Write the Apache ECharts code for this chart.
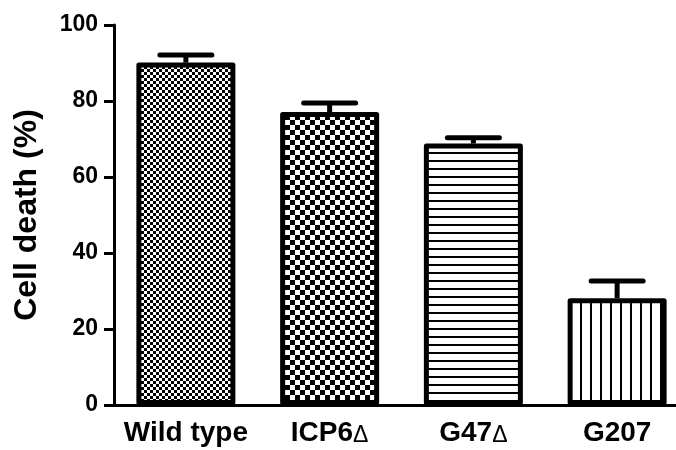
<!DOCTYPE html>
<html>
<head>
<meta charset="utf-8">
<script src="https://cdn.jsdelivr.net/npm/echarts@6/dist/echarts.min.js"></script>
<style>
  html, body { margin: 0; padding: 0; background: #fff; }
  #chart { width: 676px; height: 450px; }
</style>
</head>
<body>
<div id="chart"></div>
<script>
var categories = ['Wild type', 'ICP6Δ', 'G47Δ', 'G207'];
var cellDeath = [90.1, 77.1, 68.8, 28.1];
var errorTop = [92.1, 79.5, 70.3, 32.6];
var yTicks = [0, 20, 40, 60, 80, 100];

var FONT = '"Liberation Sans", Arial, sans-serif';

// fill patterns (checker / stripes)
function checker(size) {
  var c = document.createElement('canvas');
  c.width = c.height = size * 2;
  var g = c.getContext('2d');
  g.fillStyle = '#fff'; g.fillRect(0, 0, size * 2, size * 2);
  g.fillStyle = '#000';
  g.fillRect(0, 0, size, size);
  g.fillRect(size, size, size, size);
  return { image: c, repeat: 'repeat' };
}
function stripes(gap, w, vertical) {
  var c = document.createElement('canvas');
  c.width = vertical ? gap : 4;
  c.height = vertical ? 4 : gap;
  var g = c.getContext('2d');
  g.fillStyle = '#fff'; g.fillRect(0, 0, c.width, c.height);
  g.fillStyle = '#000';
  if (vertical) g.fillRect(0, 0, w, c.height);
  else g.fillRect(0, 0, c.width, w);
  return { image: c, repeat: 'repeat' };
}
var patterns = [checker(3), checker(5), stripes(8, 2, false), stripes(10, 2, true)];

var chart = echarts.init(document.getElementById('chart'));
chart.setOption({
  animation: false,
  backgroundColor: '#fff',
  grid: { left: 114, top: 25, bottom: 45, right: -13, outerBoundsMode: 'none', containLabel: false },
  xAxis: {
    type: 'category',
    data: categories,
    axisLine: { lineStyle: { color: '#000', width: 3 } },
    axisTick: { alignWithLabel: true, length: 10, lineStyle: { color: '#000', width: 3 } },
    axisLabel: {
      interval: 0,
      hideOverlap: false,
      margin: 14,
      color: '#000',
      fontFamily: FONT,
      fontWeight: 'bold',
      fontSize: 28,
      formatter: function (v) {
        return v.indexOf('Δ') >= 0 ? v.replace('Δ', '') + '{d|Δ}' : v;
      },
      rich: {
        d: { fontFamily: FONT, fontSize: 23, fontWeight: 'normal', color: '#000', verticalAlign: 'bottom' }
      }
    }
  },
  yAxis: {
    type: 'value',
    min: yTicks[0],
    max: yTicks[yTicks.length - 1],
    interval: yTicks[1] - yTicks[0],
    name: 'Cell death (%)',
    nameLocation: 'middle',
    nameGap: 71,
    nameTextStyle: { color: '#000', fontFamily: FONT, fontWeight: 'bold', fontSize: 32 },
    axisLine: { show: true, lineStyle: { color: '#000', width: 3 } },
    axisTick: { show: true, length: 10, lineStyle: { color: '#000', width: 3 } },
    splitLine: { show: false },
    axisLabel: { margin: 16, color: '#000', fontFamily: FONT, fontWeight: 'bold', fontSize: 23 }
  },
  series: [
    {
      type: 'bar',
      barWidth: 99,
      data: cellDeath.map(function (v, i) {
        return { value: v, itemStyle: { color: patterns[i] } };
      }),
      itemStyle: { borderColor: '#000', borderWidth: 5, borderJoin: 'round' }
    },
    {
      type: 'custom',
      z: 3,
      data: cellDeath.map(function (v, i) { return [i, v, errorTop[i]]; }),
      renderItem: function (params, api) {
        var base = api.coord([api.value(0), api.value(1)]);
        var top = api.coord([api.value(0), api.value(2)]);
        var half = 26;
        var st = { stroke: '#000', lineWidth: 5, lineCap: 'round' };
        return {
          type: 'group',
          children: [
            { type: 'line', shape: { x1: base[0], y1: base[1], x2: top[0], y2: top[1] }, style: { stroke: '#000', lineWidth: 5 } },
            { type: 'line', shape: { x1: top[0] - half, y1: top[1], x2: top[0] + half, y2: top[1] }, style: st }
          ]
        };
      }
    }
  ]
});
</script>
</body>
</html>
